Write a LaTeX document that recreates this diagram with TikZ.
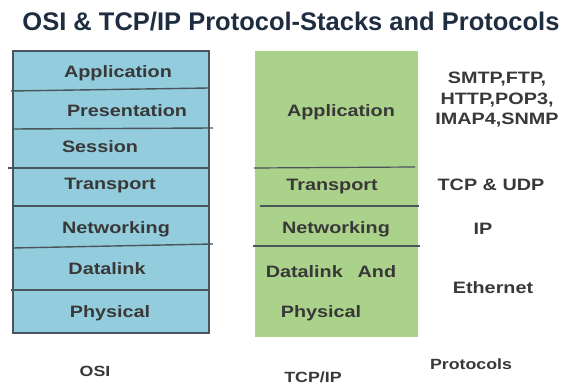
\documentclass[tikz,border=0pt]{standalone}
\usepackage{fontspec}
\setmainfont{Liberation Sans}
\newfontfamily\lblfont[FakeStretch=1.2]{Liberation Sans}
\usepackage{tikz}
\usetikzlibrary{positioning}
\definecolor{osiblue}{HTML}{93CDDD}
\definecolor{tcpgreen}{HTML}{ABD28B}
\definecolor{edgegray}{HTML}{4A545C}
\definecolor{txtgray}{HTML}{383838}
\definecolor{titlenavy}{HTML}{1F2D40}

\begin{document}
\begin{tikzpicture}[x=1pt,y=-1pt,
                   layer/.style={font=\lblfont\bfseries\fontsize{16.5}{20.5}\selectfont,text=txtgray,
                                 inner sep=0pt,text height=12pt,text depth=0pt,align=center},
                   caption/.style={font=\lblfont\bfseries\fontsize{14.8}{18}\selectfont,text=txtgray,
                                 inner sep=0pt,text height=11pt,text depth=0pt},
                   sep/.style={draw=edgegray,line width=1.4pt}]
\useasboundingbox (0,0) rectangle (566,387);
\node[font=\bfseries\fontsize{25.5}{30}\selectfont,text=titlenavy,inner sep=0pt,text height=18pt,text depth=0pt]
  (title) at (291,22) {OSI \& TCP/IP Protocol-Stacks and Protocols};
% OSI stack
\fill[osiblue] (13,51) rectangle (209,333);
\draw[sep] (11,91) -- (209,88);
\draw[sep] (13,129) -- (213,128);
\draw[sep] (8,168) -- (209,168);
\draw[sep] (13,206) -- (209,206);
\draw[sep] (13,248) -- (213,244);
\draw[sep] (11,290) -- (209,290);
\draw[draw=edgegray,line width=1.6pt] (13,51) rectangle (209,333);
\node[layer] (osiapp) at (118,72) {Application};
\node[layer] (osipres) at (127,111) {Presentation};
\node[layer] (osisess) at (100,147) {Session};
\node[layer] (ositrans) at (110,184) {Transport};
\node[layer] (osinet) at (116,228) {Networking};
\node[layer] (osidata) at (107,269) {Datalink};
\node[layer] (osiphys) at (110,312) {Physical};
% TCP/IP stack
\fill[tcpgreen] (255,51) rectangle (418,337);
\draw[sep,line width=1.2pt] (254,168) -- (415,167);
\draw[sep,line width=1.2pt] (260,206) -- (419,206);
\draw[sep,line width=1.2pt] (253,246) -- (420,246);
\node[layer] (tcpapp) at (341,111) {Application};
\node[layer] (tcptrans) at (332,185) {Transport};
\node[layer] (tcpnet) at (336,228) {Networking};
\node[layer] (tcpdata) at (331,272) {Datalink\hspace{0.9em}And};
\node[layer] (tcpphys) at (321,312) {Physical};
% protocols
\node[font=\lblfont\bfseries\fontsize{16.5}{20.5}\selectfont,text=txtgray,inner sep=0pt,align=center,anchor=north]
  (protapp) at (497,72) {SMTP,FTP,\\HTTP,POP3,\\IMAP4,SNMP};
\node[layer] (prottrans) at (491,185) {TCP \& UDP};
\node[layer] (protnet) at (483,229) {IP};
\node[layer] (protlink) at (493,288) {Ethernet};
% captions
\node[caption] (osilbl) at (95,371.5) {OSI};
\node[caption] (tcplbl) at (313,377.5) {TCP/IP};
\node[caption] (protlbl) at (471,364.5) {Protocols};
\end{tikzpicture}
\end{document}
